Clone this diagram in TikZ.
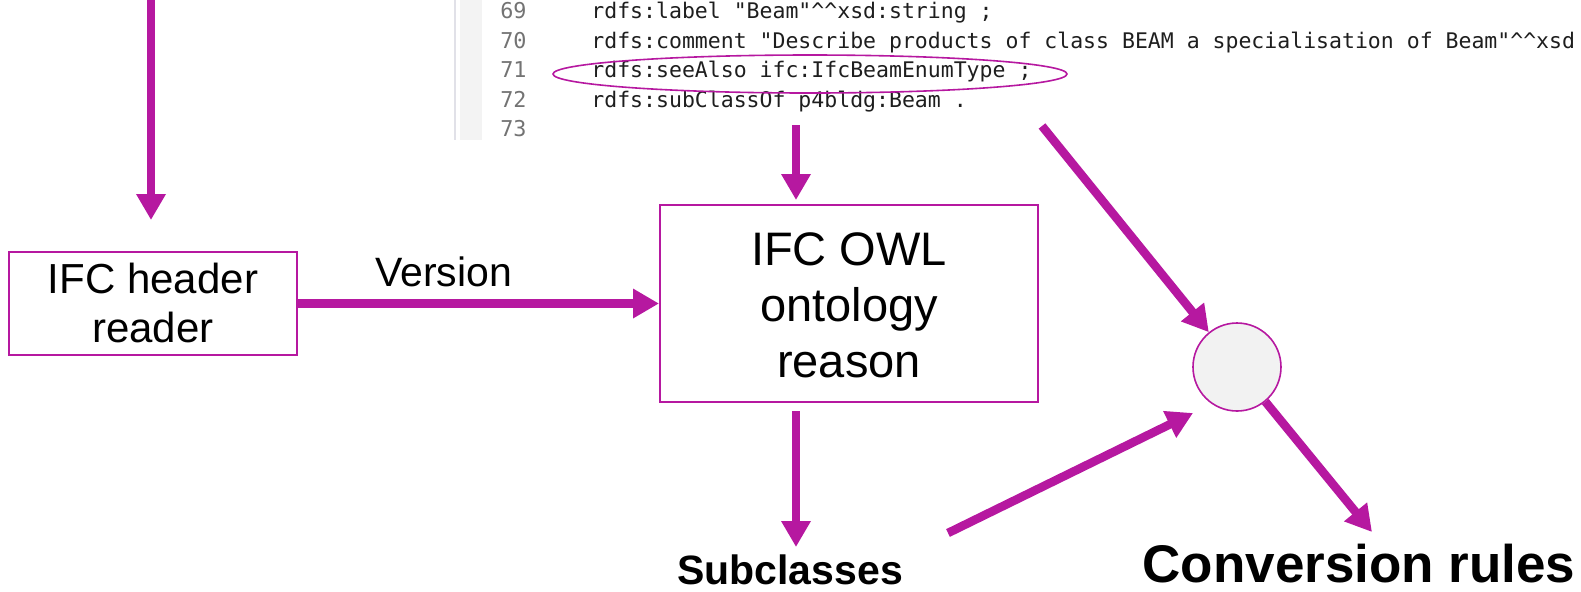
\documentclass[tikz,border=0pt]{standalone}
\usepackage{fontspec}
\setmainfont{Liberation Sans}
\newfontfamily\codefont{DejaVu Sans Mono}
\usetikzlibrary{arrows.meta}
\definecolor{mag}{RGB}{182,24,160}
\definecolor{codeblack}{RGB}{30,30,30}
\definecolor{numgray}{RGB}{115,115,115}
\definecolor{gutgray}{RGB}{243,243,243}
\definecolor{gutline}{RGB}{225,225,232}
\definecolor{circfill}{RGB}{242,242,242}
\begin{document}
\begin{tikzpicture}[x=0.5pt,y=-0.5pt,
  arr/.style={draw=mag, line width=4.3pt, -{Triangle[length=13pt,width=14pt]}},
  box/.style={draw=mag, line width=1pt, fill=white, inner sep=0pt},
  codeln/.style={anchor=base west, inner sep=0pt, font=\codefont\fontsize{10.75pt}{12pt}\selectfont, text=codeblack},
  lnum/.style={anchor=base east, inner sep=0pt, font=\codefont\fontsize{10.9pt}{12pt}\selectfont, text=numgray},
  boxtxt/.style={anchor=base, inner sep=0pt, font=\fontsize{21pt}{24pt}\selectfont},
  owltxt/.style={anchor=base, inner sep=0pt, font=\fontsize{23.5pt}{28pt}\selectfont},
]
\useasboundingbox (0,0) rectangle (1581,591);
\begin{scope}
\clip (0,0) rectangle (1581,591);
% code panel
\fill[gutgray] (460,0) rectangle (482,140);
\draw[gutline, line width=0.6pt] (455,0) -- (455,140);
\node[lnum] (n69) at (527,18.5) {69};
\node[lnum] (n70) at (527,48.1) {70};
\node[lnum] (n71) at (527,77.7) {71};
\node[lnum] (n72) at (527,107.3) {72};
\node[lnum] (n73) at (527,136.9) {73};
\node[codeln] (c69) at (591,18.5) {rdfs:label "Beam"\string^\string^xsd:string ;};
\node[codeln] (c70) at (591,48.1) {rdfs:comment "Describe products of class BEAM a specialisation of Beam"\string^\string^xsd};
\node[codeln] (c71) at (591,77.7) {rdfs:seeAlso ifc:IfcBeamEnumType ;};
\node[codeln] (c72) at (591,107.3) {rdfs:subClassOf p4bldg:Beam .};
\draw[mag, line width=0.8pt] (810,74) ellipse [x radius=128.5pt, y radius=9.5pt];

% boxes
\node[box, minimum width=144pt, minimum height=51.5pt] (hdr) at (153,303.5) {};
\node[boxtxt] (hdr1) at (153,293) {IFC header};
\node[boxtxt] (hdr2) at (153,342) {reader};

\node[box, minimum width=189pt, minimum height=98.5pt] (owl) at (849,303.5) {};
\node[owltxt] (owl1) at (849,265) {IFC OWL};
\node[owltxt] (owl2) at (849,321) {ontology};
\node[owltxt] (owl3) at (849,377) {reason};

\node[draw=mag, line width=0.8pt, fill=circfill, circle, minimum size=44pt, inner sep=0pt] (circ) at (1237,367) {};

\node[anchor=base, inner sep=0pt, font=\fontsize{20.5pt}{24pt}\selectfont] (ver) at (443.5,286) {Version};
\node[anchor=base, inner sep=0pt, font=\bfseries\fontsize{20.5pt}{24pt}\selectfont] (sub) at (790,584) {Subclasses};
\node[anchor=base, inner sep=0pt, font=\bfseries\fontsize{26.5pt}{30pt}\selectfont] (conv) at (1359,582) {Conversion rules};

% arrow end points
\coordinate (topin) at (151,0);
\coordinate (topout) at (151,220);
\coordinate (codein) at (796,125);
\coordinate (owltop) at (796,200);
\coordinate (owlbot) at (796,411);
\coordinate (subtop) at (796,547);
\coordinate (codetail) at (1042,126);
\coordinate (subtail) at (948,533);
\coordinate (subtip) at (1193,413);
\coordinate (convtip) at (1372,532);

\draw[arr] (topin) -- (topout);
\draw[arr] (hdr.east) -- (owl.west);
\draw[arr] (codein) -- (owltop);
\draw[arr] (owlbot) -- (subtop);
\draw[arr] (codetail) -- (circ);
\draw[arr] (subtail) -- (subtip);
\draw[arr] (circ) -- (convtip);
\end{scope}
\end{tikzpicture}
\end{document}
